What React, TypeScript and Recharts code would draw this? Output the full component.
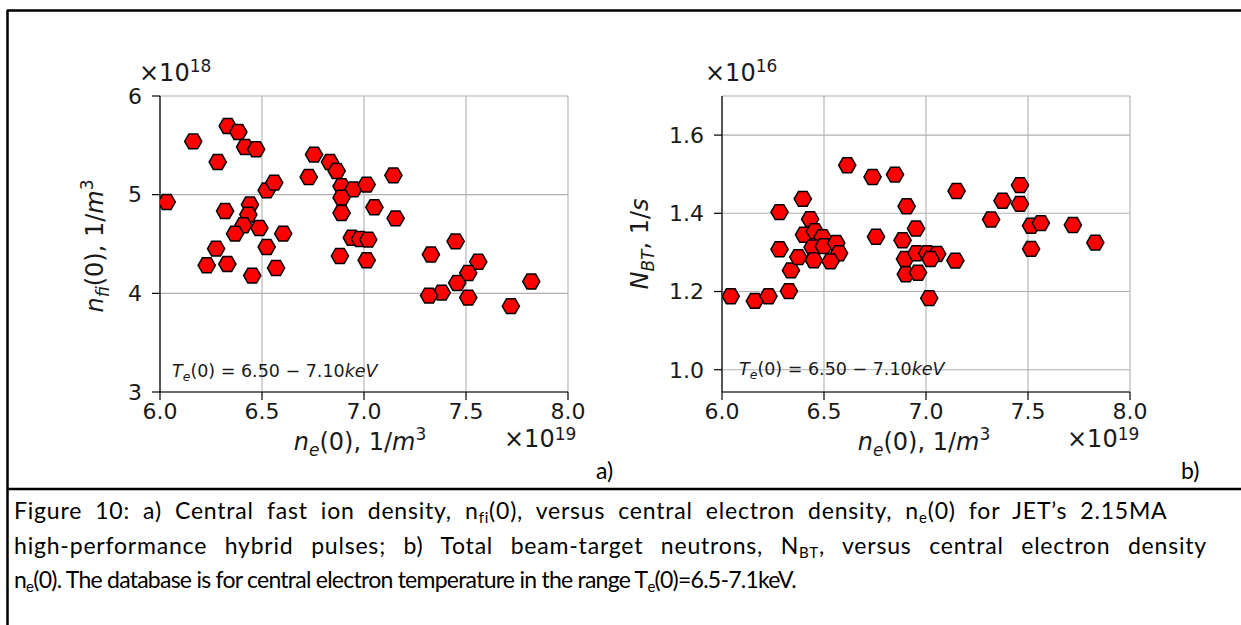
import { ScatterChart, Scatter, XAxis, YAxis, CartesianGrid } from "recharts";

// panel a) central fast ion density vs central electron density (x1e19, x1e18)
const neA = [
  6.033, 6.163, 6.332, 6.384, 6.417, 6.471, 6.283, 6.523, 6.56, 6.319,
  6.441, 6.433, 6.409, 6.368, 6.487, 6.604, 6.523, 6.275, 6.229, 6.33,
  6.452, 6.569, 6.729, 6.755, 6.833, 6.866, 6.89, 6.948, 7.013, 6.89,
  6.89, 7.051, 7.144, 7.155, 6.94, 6.98, 7.021, 6.882, 7.013, 7.328,
  7.449, 7.56, 7.511, 7.457, 7.381, 7.319, 7.511, 7.72, 7.82,
];
const nfiA = [
  4.926, 5.54, 5.696, 5.635, 5.483, 5.46, 5.331, 5.044, 5.122, 4.834,
  4.9, 4.798, 4.69, 4.605, 4.662, 4.605, 4.47, 4.453, 4.284, 4.297,
  4.18, 4.257, 5.179, 5.406, 5.331, 5.24, 5.085, 5.054, 5.102, 4.97,
  4.814, 4.872, 5.196, 4.76, 4.564, 4.55, 4.544, 4.379, 4.335, 4.393,
  4.527, 4.32, 4.206, 4.105, 4.007, 3.977, 3.957, 3.87, 4.12,
];

// panel b) total beam-target neutrons (x1e16)
const neB = [
  6.043, 6.161, 6.228, 6.328, 6.338, 6.282, 6.282, 6.396, 6.432, 6.402,
  6.455, 6.493, 6.444, 6.499, 6.56, 6.574, 6.532, 6.45, 6.374, 6.614,
  6.738, 6.848, 6.755, 6.905, 6.951, 6.885, 6.897, 6.901, 6.961, 6.953,
  7.006, 7.055, 7.022, 7.016, 7.144, 7.15, 7.461, 7.375, 7.461, 7.319,
  7.515, 7.563, 7.515, 7.72, 7.83,
];
const nbtB = [
  1.188, 1.176, 1.188, 1.201, 1.254, 1.308, 1.403, 1.437, 1.385, 1.345,
  1.354, 1.339, 1.313, 1.316, 1.324, 1.298, 1.277, 1.28, 1.288, 1.523,
  1.493, 1.499, 1.34, 1.418, 1.361, 1.331, 1.283, 1.244, 1.248, 1.298,
  1.298, 1.296, 1.283, 1.183, 1.279, 1.457, 1.472, 1.432, 1.424, 1.384,
  1.368, 1.375, 1.309, 1.37, 1.325,
];

const xTicks = [6.0, 6.5, 7.0, 7.5, 8.0];
const yTicksA = [3, 4, 5, 6];
const yTicksB = [1.0, 1.2, 1.4, 1.6];

const dataA = neA.map((x, i) => ({ x, y: nfiA[i] }));
const dataB = neB.map((x, i) => ({ x, y: nbtB[i] }));

const MPL = "'DejaVu Sans', sans-serif";
const DOC = "Lato, 'Open Sans', sans-serif";
const tickStyle = { fontSize: 22, fill: "#1a1a1a", fontFamily: MPL };

function Hexagon(props: any) {
  const { cx, cy } = props;
  const r = 8.6;
  const pts = [0, 1, 2, 3, 4, 5]
    .map((k) => {
      const a = (Math.PI / 3) * k;
      return `${cx + r * Math.cos(a)},${cy + r * Math.sin(a)}`;
    })
    .join(" ");
  return <polygon points={pts} fill="#ff0000" stroke="#000" strokeWidth={1.5} />;
}

function Panel({ data, yDomain, yTicks, yFmt, margin }: any) {
  return (
    <ScatterChart width={620} height={489} margin={margin}>
      <CartesianGrid stroke="#b0b0b0" strokeWidth={1.1} />
      <XAxis
        type="number"
        dataKey="x"
        domain={[6, 8]}
        ticks={xTicks}
        allowDataOverflow
        tickFormatter={(v: number) => v.toFixed(1)}
        tick={tickStyle}
        tickSize={8}
        tickMargin={3}
        height={30}
        axisLine={{ stroke: "#000", strokeWidth: 1.2 }}
        tickLine={{ stroke: "#000", strokeWidth: 1.2 }}
      />
      <XAxis
        xAxisId="top"
        orientation="top"
        type="number"
        domain={[6, 8]}
        tick={false}
        tickLine={false}
        height={0}
        axisLine={{ stroke: "#000", strokeWidth: 1.2 }}
      />
      <YAxis
        type="number"
        dataKey="y"
        domain={yDomain}
        ticks={yTicks}
        allowDataOverflow
        tickFormatter={yFmt}
        tick={tickStyle}
        tickSize={8}
        tickMargin={10}
        width={60}
        axisLine={{ stroke: "#000", strokeWidth: 1.2 }}
        tickLine={{ stroke: "#000", strokeWidth: 1.2 }}
      />
      <YAxis
        yAxisId="right"
        orientation="right"
        type="number"
        domain={yDomain}
        tick={false}
        tickLine={false}
        width={0}
        axisLine={{ stroke: "#000", strokeWidth: 1.2 }}
      />
      <Scatter data={data} shape={Hexagon} isAnimationActive={false} />
    </ScatterChart>
  );
}

function Overlay() {
  const it = { fontStyle: "italic" as const };
  return (
    <svg
      width={1241}
      height={625}
      style={{ position: "absolute", left: 0, top: 0, pointerEvents: "none" }}
    >
      {/* frame */}
      <line x1={7} y1={10.5} x2={1241} y2={10.5} stroke="#000" strokeWidth={2.5} />
      <line x1={7.5} y1={10} x2={7.5} y2={625} stroke="#000" strokeWidth={2.5} />
      <line x1={7} y1={489} x2={1241} y2={489} stroke="#000" strokeWidth={2.5} />

      <g fontFamily={MPL} fill="#1a1a1a">
        {/* offset texts */}
        <text x={139} y={81} fontSize={24}>×10<tspan dy={-9} fontSize={17}>18</tspan></text>
        <text x={705} y={81} fontSize={24}>×10<tspan dy={-9} fontSize={17}>16</tspan></text>
        <text x={504} y={447} fontSize={24}>×10<tspan dy={-7} fontSize={17}>19</tspan></text>
        <text x={1067} y={447} fontSize={24}>×10<tspan dy={-7} fontSize={17}>19</tspan></text>

        {/* x titles */}
        <text x={360} y={450} fontSize={24} textAnchor="middle">
          <tspan {...it}>n</tspan><tspan dy={6} fontSize={17} {...it}>e</tspan>
          <tspan dy={-6}>(0), 1/</tspan><tspan {...it}>m</tspan>
          <tspan dy={-10} fontSize={17}>3</tspan>
        </text>
        <text x={924} y={450} fontSize={24} textAnchor="middle">
          <tspan {...it}>n</tspan><tspan dy={6} fontSize={17} {...it}>e</tspan>
          <tspan dy={-6}>(0), 1/</tspan><tspan {...it}>m</tspan>
          <tspan dy={-10} fontSize={17}>3</tspan>
        </text>

        {/* y titles */}
        <text x={0} y={0} fontSize={24} textAnchor="middle" transform="translate(103 246) rotate(-90)">
          <tspan {...it}>n</tspan><tspan dy={6} fontSize={17} {...it}>fi</tspan>
          <tspan dy={-6}>(0), 1/</tspan><tspan {...it}>m</tspan>
          <tspan dy={-10} fontSize={17}>3</tspan>
        </text>
        <text x={0} y={0} fontSize={24} textAnchor="middle" transform="translate(648 244) rotate(-90)">
          <tspan {...it}>N</tspan><tspan dy={6} fontSize={17} {...it}>BT</tspan>
          <tspan dy={-6}>, 1/</tspan><tspan {...it}>s</tspan>
        </text>

        {/* in-plot annotation */}
        <text x={172} y={377} fontSize={17.5}>
          <tspan {...it}>T</tspan><tspan dy={4} fontSize={12.5} {...it}>e</tspan>
          <tspan dy={-4}>(0) = 6.50 − 7.10</tspan><tspan {...it}>keV</tspan>
        </text>
        <text x={739} y={375} fontSize={17.5}>
          <tspan {...it}>T</tspan><tspan dy={4} fontSize={12.5} {...it}>e</tspan>
          <tspan dy={-4}>(0) = 6.50 − 7.10</tspan><tspan {...it}>keV</tspan>
        </text>
      </g>

      <g fontFamily={DOC} fill="#000" fontSize={23}>
        <text x={596} y={479}>a)</text>
        <text x={1181} y={479}>b)</text>

        <text x={14} y={519} letterSpacing={0.8} wordSpacing={6.4}>
          Figure 10: a) Central fast ion density, n<tspan dy={4} fontSize={15}>fi</tspan>
          <tspan dy={-4}>(0), versus central electron density, n</tspan>
          <tspan dy={4} fontSize={15}>e</tspan>
          <tspan dy={-4}>(0) for JET’s 2.15MA</tspan>
        </text>
        <text x={14} y={554} letterSpacing={0.8} wordSpacing={10.9}>
          high-performance hybrid pulses; b) Total beam-target neutrons, N
          <tspan dy={4} fontSize={15}>BT</tspan>
          <tspan dy={-4}>, versus central electron density</tspan>
        </text>
        <text x={14} y={588} letterSpacing={-0.75}>
          n<tspan dy={4} fontSize={15}>e</tspan>
          <tspan dy={-4}>(0). The database is for central electron temperature in the range T</tspan>
          <tspan dy={4} fontSize={15}>e</tspan>
          <tspan dy={-4}>(0)=6.5-7.1keV.</tspan>
        </text>
      </g>
    </svg>
  );
}

export default function App() {
  return (
    <div style={{ position: "absolute", left: 0, top: 0, width: 1241, height: 625, background: "#fff" }}>
      <div style={{ position: "absolute", left: 0, top: 0 }}>
        <Panel
          data={dataA}
          yDomain={[3, 6]}
          yTicks={yTicksA}
          yFmt={(v: number) => String(v)}
          margin={{ top: 96, right: 52, bottom: 67, left: 100 }}
        />
      </div>
      <div style={{ position: "absolute", left: 600, top: 0 }}>
        <Panel
          data={dataB}
          yDomain={[0.943, 1.7]}
          yTicks={yTicksB}
          yFmt={(v: number) => v.toFixed(1)}
          margin={{ top: 96, right: 90, bottom: 67, left: 62 }}
        />
      </div>
      <Overlay />
    </div>
  );
}
